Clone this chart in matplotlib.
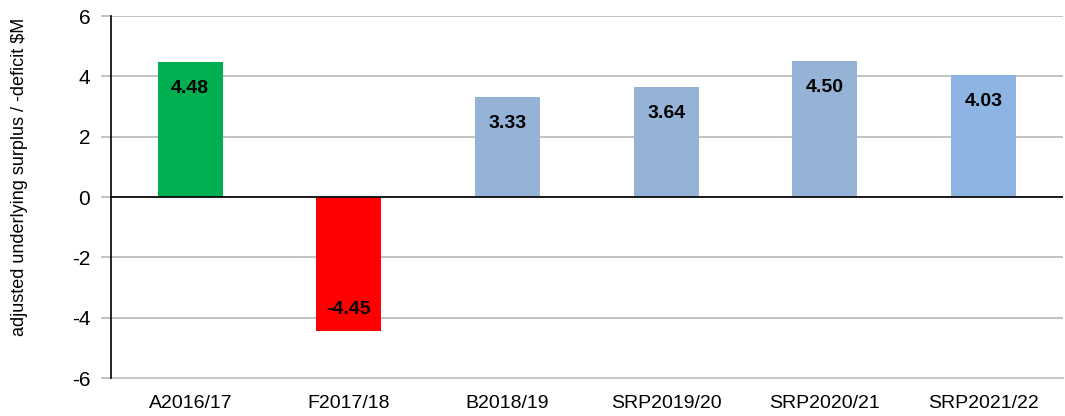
import matplotlib

matplotlib.use("Agg")
import matplotlib.pyplot as plt
from matplotlib import font_manager

categories = ["A2016/17", "F2017/18", "B2018/19", "SRP2019/20", "SRP2020/21", "SRP2021/22"]
values = [4.48, -4.45, 3.33, 3.64, 4.50, 4.03]
bar_colors = ["#00B050", "#FF0000", "#95B3D7", "#95B3D7", "#95B3D7", "#8DB4E2"]
yticks = [-6, -4, -2, 0, 2, 4, 6]

names = {f.name for f in font_manager.fontManager.ttflist}
narrow = "Liberation Sans Narrow" if "Liberation Sans Narrow" in names else "Liberation Sans"
plt.rcParams["font.family"] = [narrow, "DejaVu Sans"]

fig = plt.figure(figsize=(10.65, 4.16), dpi=100)
ax = fig.add_axes([0.1042, 0.0913, 0.8938, 0.8702])

x = range(len(categories))
ax.bar(x, values, width=0.41, color=bar_colors, zorder=3)

for i, v in enumerate(values):
    off = -0.88 if v > 0 else 0.72
    ax.text(i, v + off, f"{v:.2f}", ha="center", va="center",
            fontsize=14, fontweight="bold", color="black", zorder=4)

ax.set_xlim(-0.5, len(categories) - 0.5)
ax.set_ylim(-6, 6)
ax.set_yticks(yticks)
ax.set_yticklabels([str(t) for t in yticks], fontsize=15)
ax.set_xticks(list(x))
ax.set_xticklabels(categories, fontsize=14)
ax.tick_params(axis="x", length=0, pad=12)
ax.tick_params(axis="y", length=7, width=1.2, color="#B8B8B8", pad=8)

ax.grid(axis="y", color="#B8B8B8", linewidth=1.2, zorder=0)
ax.axhline(0, color="black", linewidth=1.2, zorder=4)
for s in ["top", "right"]:
    ax.spines[s].set_visible(False)
ax.spines["bottom"].set_color("#C8C8C8")
ax.spines["bottom"].set_linewidth(1.5)
ax.spines["left"].set_color("black")
ax.spines["left"].set_linewidth(1.2)
ax.spines["left"].set_zorder(5)

ax.set_ylabel("adjusted underlying surplus / -deficit $M", fontsize=13)
ax.yaxis.set_label_coords(-0.087, 0.555)

fig.savefig("out.png", dpi=100)
